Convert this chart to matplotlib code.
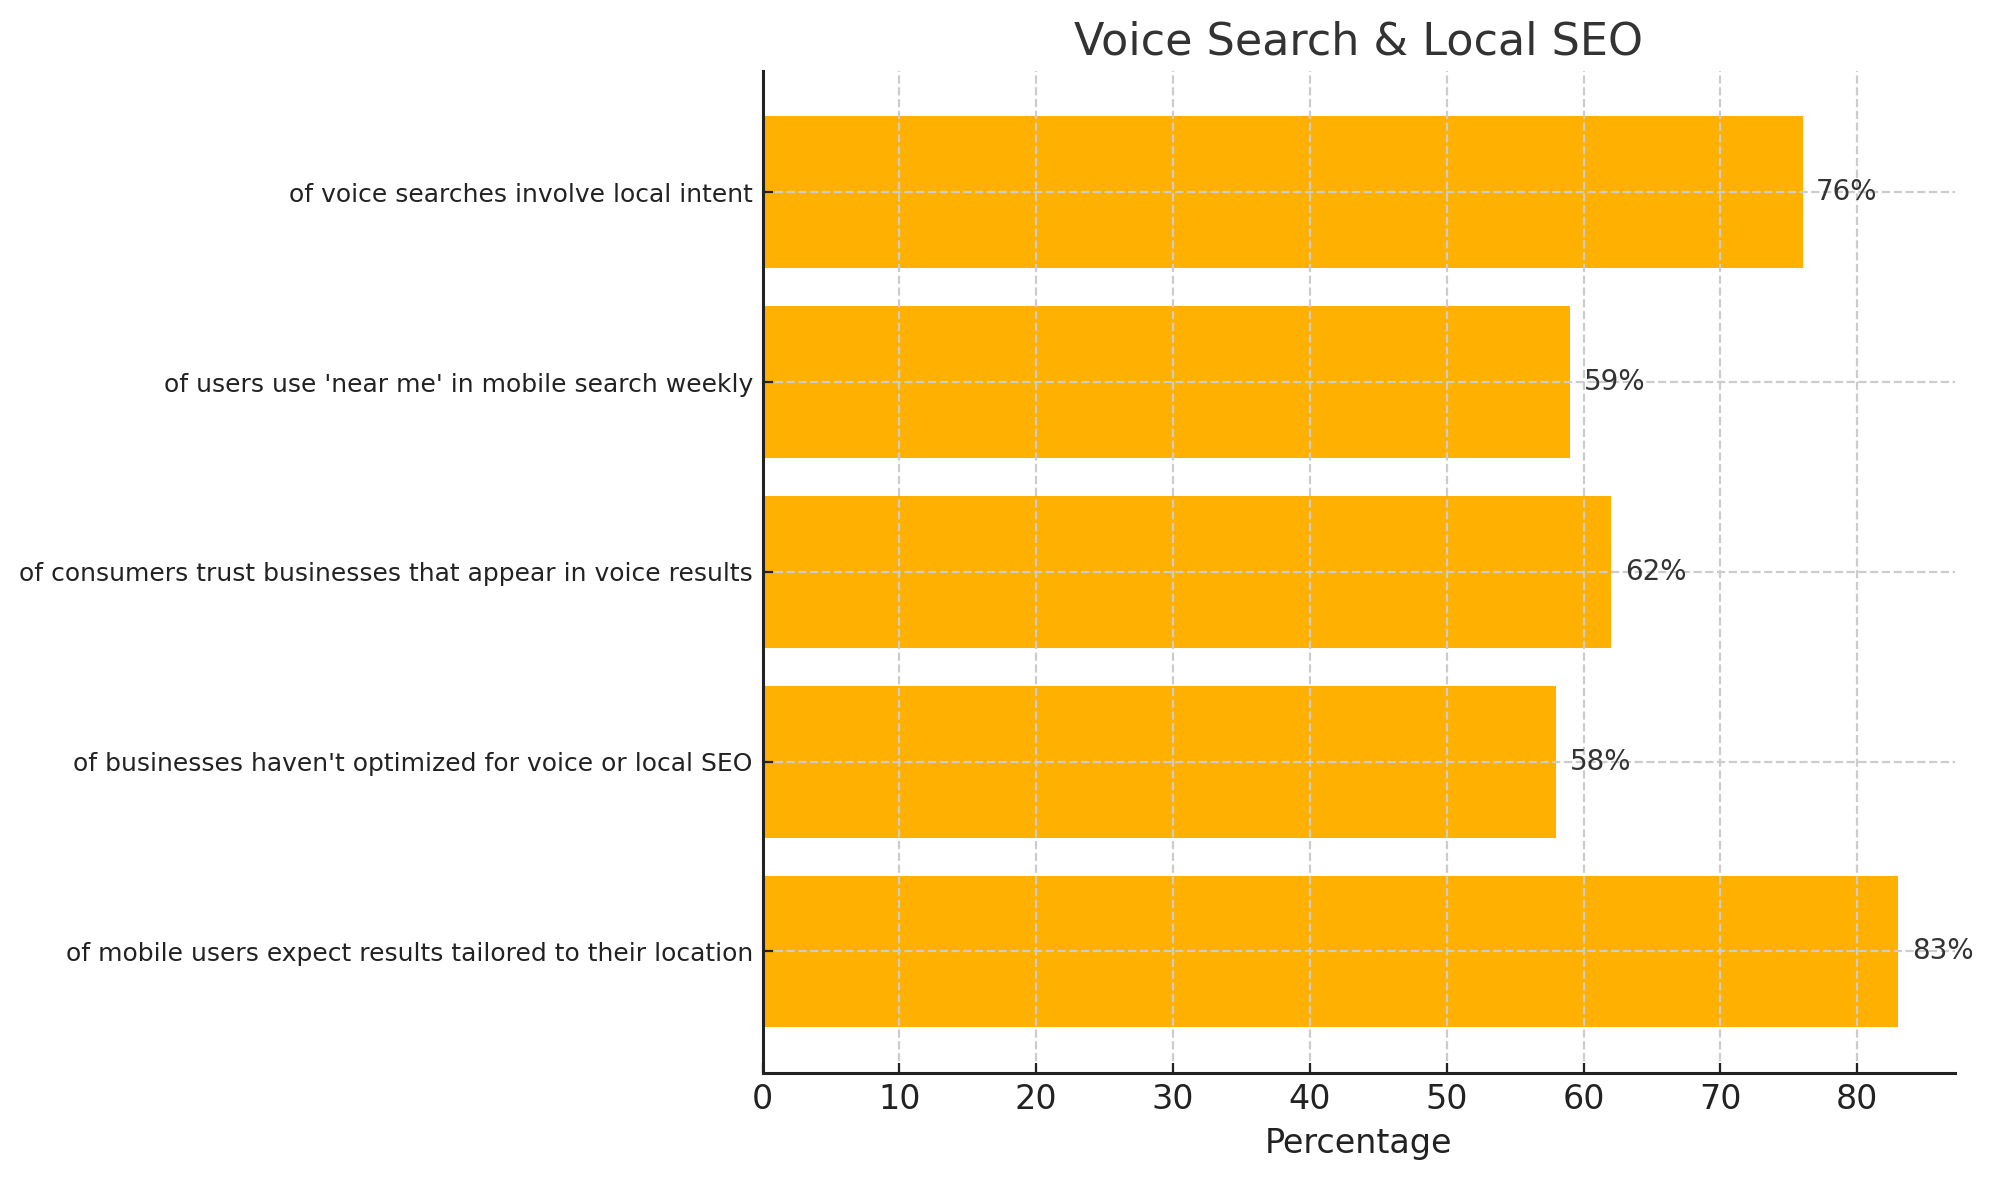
import matplotlib
matplotlib.use("Agg")
import matplotlib.pyplot as plt

categories = [
    "of mobile users expect results tailored to their location",
    "of businesses haven't optimized for voice or local SEO",
    "of consumers trust businesses that appear in voice results",
    "of users use 'near me' in mobile search weekly",
    "of voice searches involve local intent",
]
values = [83, 58, 62, 59, 76]

fig = plt.figure(figsize=(9.96, 5.9), dpi=200)
ax = fig.add_axes([0.3828, 0.0907, 0.5987, 0.8493])

bars = ax.barh(categories, values, color="#FFB000", height=0.8)
for bar, v in zip(bars, values):
    ax.text(bar.get_width() + 1, bar.get_y() + bar.get_height() / 2, f"{v}%",
            va="center", ha="left", fontsize=10, color="#333333")

ax.grid(True, linestyle="--", color="#cccccc", linewidth=0.8)
ax.set_axisbelow(False)
for s in ["top", "right"]:
    ax.spines[s].set_visible(False)
for s in ["left", "bottom"]:
    ax.spines[s].set_color("#222222")
    ax.spines[s].set_linewidth(1.1)
    ax.spines[s].set_zorder(4)

ax.tick_params(axis="both", direction="in", colors="#222222")
ax.tick_params(axis="x", labelsize=12)
ax.tick_params(axis="y", labelsize=9)
ax.set_xlabel("Percentage", fontsize=12, color="#222222")
ax.set_title("Voice Search & Local SEO", fontsize=16, color="#333333")

fig.savefig("out.png", dpi=200)
